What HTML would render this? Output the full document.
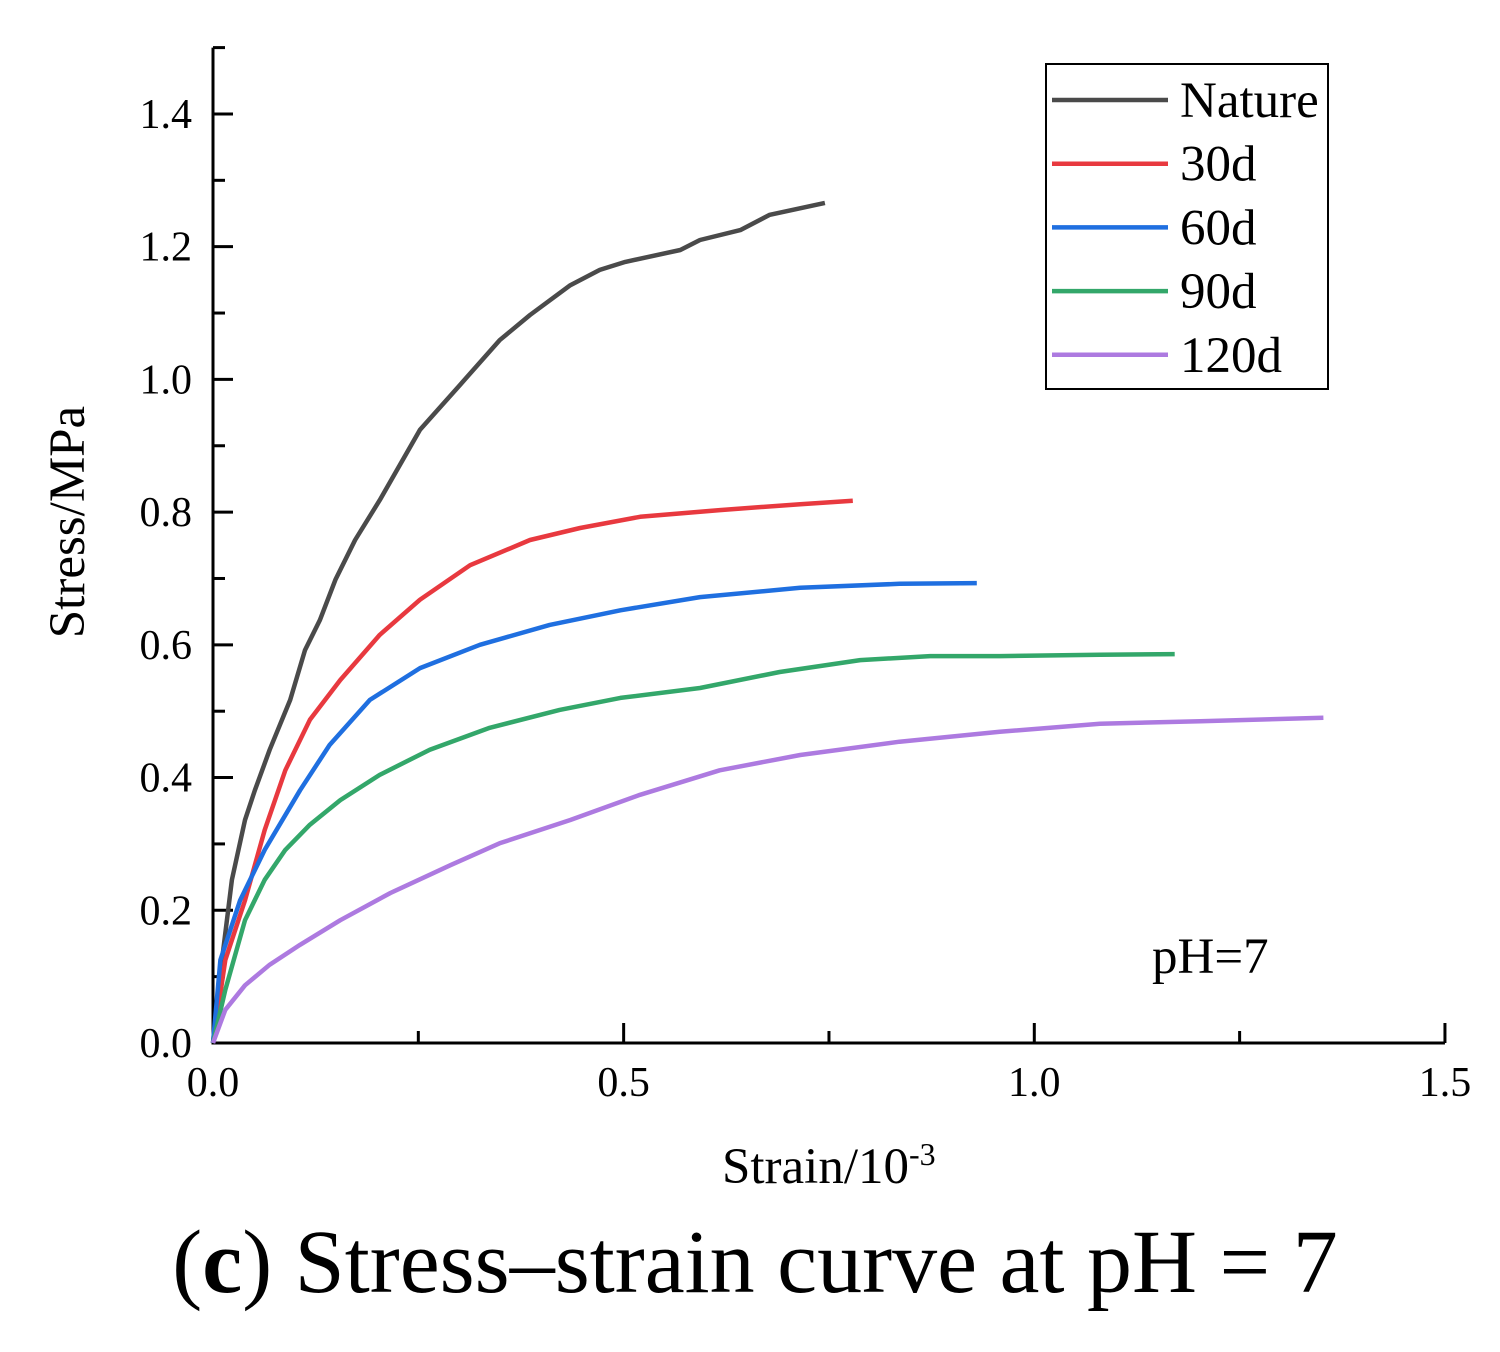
<!DOCTYPE html>
<html><head><meta charset="utf-8"><style>
body{margin:0;background:#fff;}
svg text{font-family:"Liberation Serif",serif;fill:#000;}
</style></head><body>
<svg id="chart" width="1500" height="1347" xmlns="http://www.w3.org/2000/svg">
<g id="axes"></g>
<g id="series"></g>
<g id="legend">
<rect x="1046" y="64" width="282" height="325" fill="#fff" stroke="#000" stroke-width="2"/>
</g>
<text x="1152" y="973" font-size="51">pH=7</text>
<text transform="translate(84,522) rotate(-90)" text-anchor="middle" font-size="51">Stress/MPa</text>
<text x="722" y="1183" font-size="51">Strain/10<tspan dy="-18" font-size="32">-3</tspan></text>
<text x="755" y="1292" text-anchor="middle" font-size="90">(<tspan font-weight="bold">c</tspan>) Stress–strain curve at pH = 7</text>
</svg>
<script>
const xTicks=[0,0.5,1.0,1.5];
const yTicks=[0,0.2,0.4,0.6,0.8,1.0,1.2,1.4];
const seriesNames=["Nature","30d","60d","90d","120d"];
const seriesColors=["#4a4a4a","#e8393f","#1f6fe0","#33a76a","#ad7ae0"];
const natureX=[0,0.011,0.023,0.039,0.051,0.069,0.094,0.112,0.13,0.149,0.173,0.203,0.252,0.301,0.349,0.386,0.435,0.471,0.502,0.569,0.593,0.642,0.678,0.745];
const natureY=[0,0.125,0.246,0.336,0.381,0.442,0.517,0.592,0.637,0.698,0.758,0.818,0.924,0.992,1.059,1.097,1.142,1.165,1.177,1.195,1.21,1.225,1.248,1.266];
const d30X=[0,0.015,0.039,0.063,0.088,0.118,0.155,0.203,0.252,0.313,0.386,0.447,0.52,0.617,0.715,0.779];
const d30Y=[0,0.125,0.215,0.321,0.411,0.487,0.547,0.615,0.668,0.72,0.758,0.776,0.793,0.803,0.812,0.817];
const d60X=[0,0.009,0.033,0.063,0.106,0.142,0.191,0.252,0.325,0.41,0.496,0.593,0.715,0.836,0.93];
const d60Y=[0,0.125,0.215,0.291,0.381,0.449,0.517,0.565,0.6,0.63,0.652,0.672,0.686,0.692,0.693];
const d90X=[0,0.015,0.039,0.063,0.088,0.118,0.155,0.203,0.264,0.337,0.422,0.496,0.593,0.69,0.788,0.873,0.958,1.08,1.171];
const d90Y=[0,0.08,0.185,0.246,0.291,0.329,0.366,0.404,0.442,0.475,0.502,0.52,0.535,0.559,0.577,0.583,0.583,0.585,0.586];
const d120X=[0,0.015,0.039,0.069,0.106,0.155,0.216,0.289,0.349,0.435,0.52,0.617,0.715,0.836,0.958,1.08,1.202,1.352];
const d120Y=[0,0.05,0.087,0.118,0.148,0.185,0.226,0.268,0.301,0.336,0.374,0.411,0.434,0.454,0.469,0.481,0.485,0.49];
const allX=[natureX,d30X,d60X,d90X,d120X];
const allY=[natureY,d30Y,d60Y,d90Y,d120Y];

const NS="http://www.w3.org/2000/svg";
const X0=213,XS=821.3,Y0=1043,YS=663.6;
const sx=v=>X0+v*XS, sy=v=>Y0-v*YS;
function mk(tag,attrs,parent){const e=document.createElementNS(NS,tag);for(const k in attrs)e.setAttribute(k,attrs[k]);parent.appendChild(e);return e;}
const axes=document.getElementById('axes');
let e=mk('line',{x1:sx(0),y1:sy(1.5),x2:sx(0),y2:sy(0)+1.5,stroke:'#000','stroke-width':3},axes);


e=mk('line',{x1:sx(0)-1.5,y1:sy(0),x2:sx(1.5),y2:sy(0),stroke:'#000','stroke-width':3},axes);


for(let i=1;i<=15;i++){const v=i*0.1;const L=(i%2==0)?20:12;
 e=mk('line',{x1:sx(0),y1:sy(v),x2:sx(0)+L,y2:sy(v),stroke:'#000','stroke-width':3},axes);
 
 }
for(let i=1;i<=6;i++){const v=i*0.25;const L=(i%2==0)?20:12;
 e=mk('line',{x1:sx(v),y1:sy(0),x2:sx(v),y2:sy(0)-L,stroke:'#000','stroke-width':3},axes);
 
 }
yTicks.forEach(v=>{e=mk('text',{x:192,y:sy(v)+14,'text-anchor':'end','font-size':42},axes);e.textContent=v.toFixed(1);
 
 });
xTicks.forEach(v=>{e=mk('text',{x:sx(v),y:1096,'text-anchor':'middle','font-size':42},axes);e.textContent=v.toFixed(1);
 
 });
const ser=document.getElementById('series'),leg=document.getElementById('legend');
seriesNames.forEach((n,i)=>{
 const d=allX[i].map((x,j)=>(j?'L':'M')+sx(x).toFixed(1)+','+sy(allY[i][j]).toFixed(1)).join(' ');
 e=mk('path',{d:d,fill:'none',stroke:seriesColors[i],'stroke-width':4.5,'stroke-linejoin':'round'},ser);
 
 
 const ly=100+i*63.7;
 e=mk('line',{x1:1052,y1:ly,x2:1168,y2:ly,stroke:seriesColors[i],'stroke-width':4.5},leg);
 
 
 e=mk('text',{x:1180,y:ly+17,'font-size':51},leg);e.textContent=n;
 
 
});
</script>
</body></html>
